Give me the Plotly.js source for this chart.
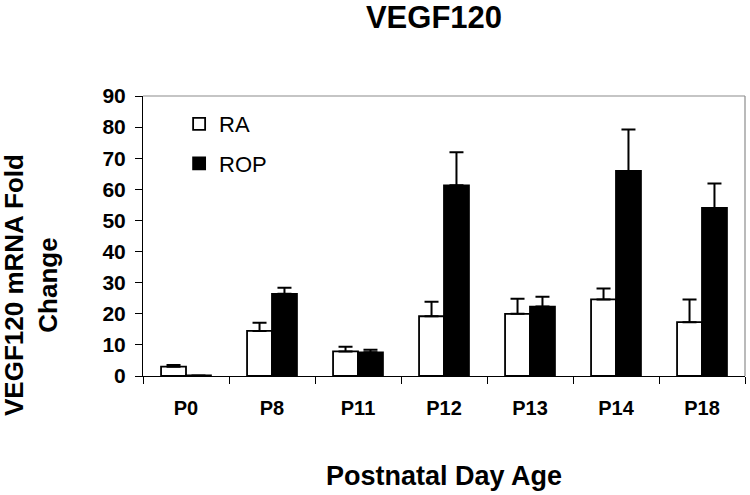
<!DOCTYPE html>
<html>
<head>
<meta charset="utf-8">
<script src="https://cdn.plot.ly/plotly-3.0.1.min.js"></script>
<style>html,body{margin:0;padding:0;background:#fff;}#chart{width:750px;height:495px;}</style>
</head>
<body>
<div id="chart"></div>
<script>
const categories = ["P0", "P8", "P11", "P12", "P13", "P14", "P18"];
const raValues   = [3.0, 14.5, 7.9, 19.2, 20.0, 24.6, 17.3];
const raErrors   = [0.5, 2.6, 1.5, 4.7, 4.8, 3.5, 7.3];
const ropValues  = [0.2, 26.4, 7.6, 61.3, 22.3, 65.9, 54.0];
const ropErrors  = [0, 2.0, 0.8, 10.6, 3.2, 13.3, 7.9];
const yTicks     = [0, 10, 20, 30, 40, 50, 60, 70, 80, 90];

const FONT = "Arial, 'Liberation Sans', sans-serif";
const zeros = categories.map(() => 0);

const traces = [
  {
    type: "bar", name: "RA", x: categories, y: raValues, legendgroup: "a",
    marker: {color: "#ffffff", line: {color: "#000000", width: 1.8}},
    error_y: {type: "data", array: raErrors, arrayminus: zeros, symmetric: false,
              color: "#000000", thickness: 2, width: 7}
  },
  {
    type: "bar", name: "ROP", x: categories, y: ropValues, legendgroup: "b",
    marker: {color: "#000000", line: {color: "#000000", width: 1.8}},
    error_y: {type: "data", array: ropErrors, arrayminus: zeros, symmetric: false,
              color: "#000000", thickness: 2, width: 7}
  }
];

const layout = {
  width: 750, height: 495,
  margin: {l: 143, r: 5, t: 96, b: 119},
  paper_bgcolor: "#ffffff", plot_bgcolor: "#ffffff",
  font: {family: FONT, color: "#000000"},
  title: {text: "<b>VEGF120</b>", font: {family: FONT, size: 31, color: "#000000"},
          x: 434/750, xanchor: "center", xref: "container", y: 1 - 17/495, yanchor: "middle", yref: "container"},
  barmode: "group", bargap: 0.42, bargroupgap: 0,
  showlegend: true,
  legend: {x: 0.06, y: 0.975, xanchor: "left", yanchor: "top", bgcolor: "rgba(0,0,0,0)",
           font: {family: FONT, size: 22, color: "#000000"}, tracegroupgap: 8},
  xaxis: {
    type: "category", showline: true, linecolor: "#000000", linewidth: 1,
    ticks: "outside", tickson: "boundaries", ticklen: 7, tickcolor: "#000000",
    tickfont: {family: FONT, size: 20, color: "#000000", weight: "bold"}, ticklabelstandoff: 14,
    showgrid: false, zeroline: false,
    title: {text: "<b>Postnatal Day Age</b>", font: {family: FONT, size: 27, color: "#000000"}, standoff: 48}
  },
  yaxis: {
    range: [0, 90], tickvals: yTicks, ticktext: yTicks.map(v => "<b>" + v + "</b>"),
    showline: true, linecolor: "#000000", linewidth: 1,
    ticks: "outside", ticklen: 7, tickcolor: "#000000",
    tickfont: {family: FONT, size: 21, color: "#000000"}, ticklabelstandoff: 5,
    showgrid: false, zeroline: false
  },
  annotations: [
    {text: "<b>VEGF120 mRNA Fold<br>Change</b>", xref: "paper", yref: "paper",
     x: -(143 - 31) / 602, y: (376 - 285) / 280, xanchor: "center", yanchor: "middle",
     textangle: -90, showarrow: false, font: {family: FONT, size: 26, color: "#000000"}}
  ],
  shapes: [
    {type: "line", xref: "paper", yref: "paper", x0: 0, x1: 1, y0: 1, y1: 1, line: {color: "#8c8c8c", width: 1.2}},
    {type: "line", xref: "paper", yref: "paper", x0: 1, x1: 1, y0: 0, y1: 1, line: {color: "#8c8c8c", width: 1.2}}
  ]
};

Plotly.newPlot("chart", traces, layout, {displayModeBar: false, staticPlot: true});
</script>
</body>
</html>
